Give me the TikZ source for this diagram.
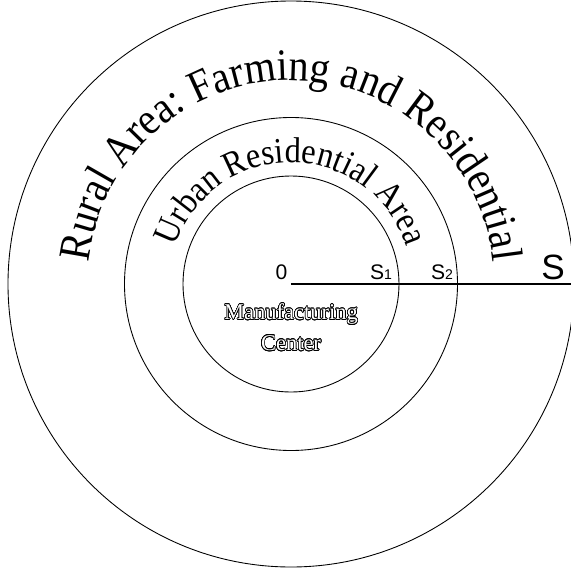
\documentclass[tikz,border=0pt]{standalone}
\usepackage{fontspec}
\setmainfont{Liberation Serif}
\setsansfont{Liberation Sans}
\newfontfamily\arcfont[FakeStretch=0.9]{Liberation Serif}
\usepackage[copies]{contour}
\usetikzlibrary{decorations.text}
\contourlength{0.35pt}
\contournumber{24}

\tikzset{
  ring/.style={draw, line width=0.5pt},
  dist/.style={font=\sffamily\fontsize{12}{14}\selectfont, anchor=south, inner sep=0pt},
  zone/.style={decorate, decoration={text along path, text align=center, text={#1}}},
}
\newcommand{\hollow}[1]{\contour{black}{\textcolor{white}{#1}}}

\begin{document}
\begin{tikzpicture}
    \useasboundingbox (-5.82,-5.74) rectangle (5.60,5.68);
    \coordinate (O) at (0,0);

    % Ringet
    \draw[ring] (O) circle (2.16);
    \draw[ring] (O) circle (3.33);
    \draw[ring] (O) circle (5.66);

    % Boshti i distances
    \coordinate (rim) at (5.60,0);
    \draw[line width=0.6pt] (O) -- (rim);
    \node[dist] (zero) at (-0.19,0.08) {0};
    \node[dist] (s1) at (1.80,0.08) {S{\fontsize{8}{9}\selectfont 1}};
    \node[dist] (s2) at (3.02,0.08) {S{\fontsize{8}{9}\selectfont 2}};
    \node[dist, font=\sffamily\fontsize{20}{24}\selectfont] (s) at (5.24,0.08) {S};

    % Tekstet e zonave
    \path[zone={|\arcfont\fontsize{25.5}{28}\selectfont|Rural Area: Farming and Residential}]
        (180:4.07) arc (180:0:4.07);
    \path[zone={|\arcfont\fontsize{20.5}{24}\selectfont|Urban Residential Area}]
        (180:2.43) arc (180:0:2.43);

    % Qendra
    \node[font=\fontsize{12.8}{17.6}\selectfont, align=center] (mfg) at (0,-0.87)
        {\hollow{Manufacturing}\\ \hollow{Center}};
\end{tikzpicture}
\end{document}
